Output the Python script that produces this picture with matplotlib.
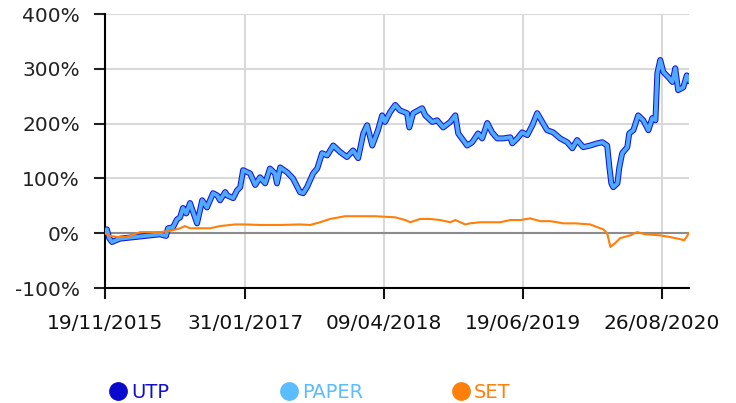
import pandas as pd
import matplotlib.pyplot as plt
from matplotlib.lines import Line2D

# cumulative return (%)
utp_dates = ['2015-11-19', '2015-11-25', '2015-12-02', '2015-12-11', '2015-12-23', '2016-01-05',
             '2016-02-05', '2016-03-08', '2016-04-08', '2016-05-09', '2016-05-28', '2016-06-03',
             '2016-06-19', '2016-07-01', '2016-07-11', '2016-07-20', '2016-07-30', '2016-08-11',
             '2016-08-20', '2016-09-02', '2016-09-18', '2016-10-03', '2016-10-22', '2016-11-04',
             '2016-11-13', '2016-11-29', '2016-12-05', '2016-12-24', '2017-01-05', '2017-01-15',
             '2017-01-24', '2017-02-15', '2017-03-03', '2017-03-18', '2017-04-03', '2017-04-18',
             '2017-05-04', '2017-05-10', '2017-05-20', '2017-06-11', '2017-06-29', '2017-07-21',
             '2017-07-31', '2017-08-12', '2017-08-31', '2017-09-13', '2017-09-28', '2017-10-14',
             '2017-11-02', '2017-11-24', '2017-12-15', '2018-01-03', '2018-01-19', '2018-02-04',
             '2018-02-16', '2018-03-04', '2018-03-22', '2018-04-04', '2018-04-13', '2018-04-29',
             '2018-05-15', '2018-05-30', '2018-06-21', '2018-06-28', '2018-07-10', '2018-08-07',
             '2018-08-17', '2018-09-08', '2018-09-23', '2018-10-12', '2018-11-03', '2018-11-19',
             '2018-11-28', '2018-12-26', '2019-01-11', '2019-01-29', '2019-02-11', '2019-02-27',
             '2019-03-14', '2019-03-30', '2019-04-18', '2019-05-10', '2019-05-16', '2019-06-01',
             '2019-06-16', '2019-07-02', '2019-07-18', '2019-08-02', '2019-08-18', '2019-09-02',
             '2019-09-21', '2019-10-13', '2019-11-04', '2019-11-20', '2019-12-05', '2019-12-24',
             '2020-01-15', '2020-02-06', '2020-02-22', '2020-03-08', '2020-03-15', '2020-03-21',
             '2020-03-27', '2020-04-09', '2020-04-15', '2020-04-24', '2020-05-10', '2020-05-16',
             '2020-05-29', '2020-06-13', '2020-06-29', '2020-07-15', '2020-07-27', '2020-08-06',
             '2020-08-12', '2020-08-21', '2020-08-31', '2020-09-15', '2020-09-28', '2020-10-07',
             '2020-10-16', '2020-11-01', '2020-11-12', '2020-11-19']
utp_pct = [4, 7, -9, -16, -13, -10,
           -8, -6, -4, -2, -5, 9,
           11, 25, 29, 46, 36, 55,
           40, 18, 60, 47, 73, 69,
           60, 75, 69, 64, 78, 84,
           115, 109, 88, 102, 91, 118,
           109, 91, 120, 111, 100, 75,
           73, 84, 109, 118, 146, 142,
           160, 148, 139, 151, 137, 182,
           197, 160, 188, 215, 203, 221,
           234, 224, 219, 193, 219, 228,
           215, 203, 206, 193, 203, 215,
           182, 160, 166, 182, 173, 201,
           184, 173, 173, 175, 164, 173,
           184, 179, 197, 219, 203, 188,
           184, 173, 166, 155, 170, 157,
           160, 164, 166, 160, 120, 91,
           84, 91, 120, 146, 157, 182,
           188, 215, 206, 188, 210, 206,
           292, 316, 294, 285, 276, 301,
           261, 266, 288, 279]
# PAPER tracks UTP almost exactly on this chart
paper_dates = list(utp_dates)
paper_pct = list(utp_pct)

set_dates = ['2015-11-19', '2015-12-05', '2015-12-30', '2016-01-21', '2016-02-05', '2016-03-08',
             '2016-04-08', '2016-05-09', '2016-06-09', '2016-07-11', '2016-07-26', '2016-08-11',
             '2016-09-11', '2016-10-13', '2016-11-13', '2016-12-30', '2017-01-30', '2017-03-18',
             '2017-05-20', '2017-07-21', '2017-08-22', '2017-09-22', '2017-10-23', '2017-12-09',
             '2018-01-25', '2018-03-13', '2018-05-15', '2018-06-15', '2018-07-01', '2018-08-01',
             '2018-09-01', '2018-10-03', '2018-11-03', '2018-11-19', '2018-12-20', '2019-01-04',
             '2019-02-05', '2019-04-08', '2019-05-10', '2019-06-10', '2019-07-11', '2019-08-12',
             '2019-09-12', '2019-10-23', '2019-11-29', '2020-01-15', '2020-02-06', '2020-02-25',
             '2020-03-08', '2020-03-18', '2020-04-02', '2020-04-18', '2020-05-19', '2020-06-10',
             '2020-07-05', '2020-08-21', '2020-09-21', '2020-10-23', '2020-11-04', '2020-11-19']
set_pct = [0, -5, -7, -7, -5, 2,
           2, 2, 4, 9, 13, 9,
           9, 9, 13, 16, 16, 15,
           15, 16, 15, 20, 26, 31,
           31, 31, 29, 24, 20, 26,
           26, 24, 20, 24, 16, 18,
           20, 20, 24, 24, 27, 22,
           22, 18, 18, 16, 11, 7,
           0, -25, -18, -9, -4, 2,
           -2, -4, -7, -11, -13, 0]

tick_dates = ['2015-11-19', '2017-01-31', '2018-04-09', '2019-06-19', '2020-08-26']
y_ticks = [-100, 0, 100, 200, 300, 400]

utp_color = '#1414d6'
paper_color = '#4eaaff'
set_color = '#ff7f0a'

plt.rcParams['font.family'] = ['DejaVu Sans']

fig = plt.figure(figsize=(7.36, 4.03), dpi=100)
ax = fig.add_axes([105 / 736, 1 - 288 / 403, 584 / 736, 274 / 403])

ax.plot(pd.to_datetime(utp_dates), utp_pct, color=utp_color, lw=4.3, zorder=3)
ax.plot(pd.to_datetime(paper_dates), paper_pct, color=paper_color, lw=2.8, zorder=4)
ax.plot(pd.to_datetime(set_dates), set_pct, color=set_color, lw=1.5, zorder=5)
ax.axhline(0, color='#8c8c8c', lw=1.5, zorder=2)

ax.set_xlim(pd.Timestamp('2015-11-19'), pd.Timestamp('2020-11-19'))
ax.set_ylim(-100, 400)
ax.set_yticks(y_ticks)
ax.set_yticklabels([f'{v}%' for v in y_ticks])
td = pd.to_datetime(tick_dates)
ax.set_xticks(td)
ax.set_xticklabels([d.strftime('%d/%m/%Y') for d in td])

ax.grid(color='#d9d9d9', lw=1.5, zorder=0)
for s in ['top', 'right']:
    ax.spines[s].set_visible(False)
for s in ['left', 'bottom']:
    ax.spines[s].set_linewidth(1.5)
    ax.spines[s].set_color('black')
ax.tick_params(axis='y', length=8, width=1.5, pad=10, labelsize=14.5, colors='#222222')
ax.tick_params(axis='x', length=8, width=1.5, pad=11, labelsize=14.5, colors='#111111')

# legend row at the bottom
for name, col, tcol, xpos in [('UTP', '#0a0acc', '#1010cc', 100),
                              ('PAPER', '#5bbcff', '#5bbcff', 271),
                              ('SET', set_color, set_color, 443)]:
    h = Line2D([], [], ls='', marker='o', ms=12.5, color=col)
    lg = fig.legend(handles=[h], labels=[name], loc='center left',
                    bbox_to_anchor=(xpos / 736, 11 / 403), frameon=False,
                    handlelength=0.8, handletextpad=0.3, borderpad=0,
                    prop={'size': 14})
    for t in lg.get_texts():
        t.set_color(tcol)

fig.savefig('out.png', dpi=100)
